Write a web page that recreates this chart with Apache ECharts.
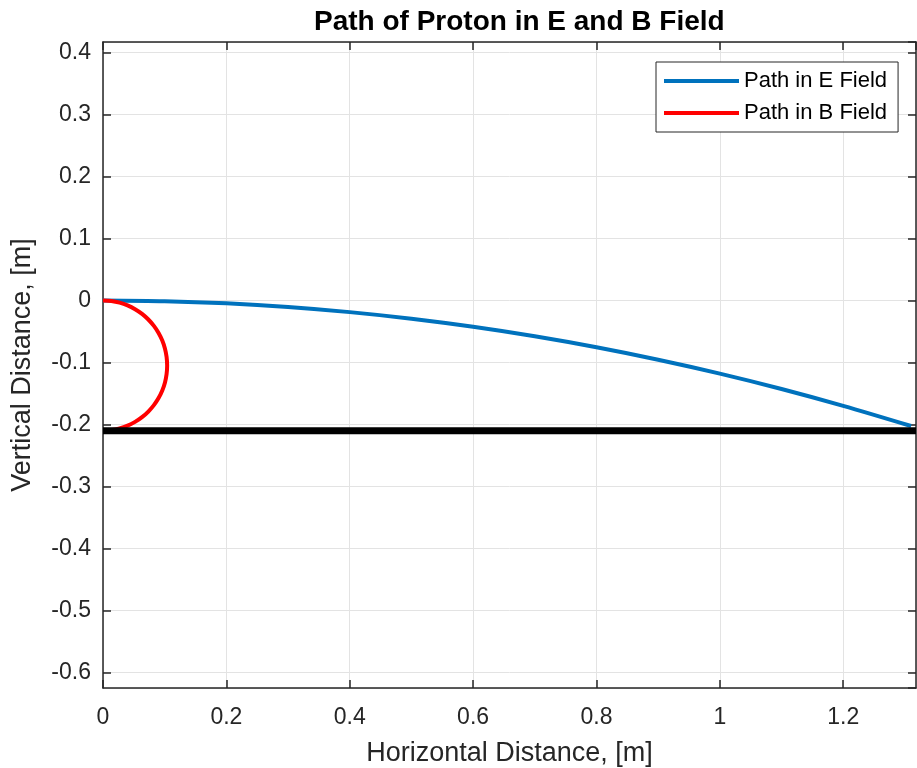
<!DOCTYPE html>
<html>
<head>
<meta charset="utf-8">
<title>Path of Proton in E and B Field</title>
<script src="https://cdn.jsdelivr.net/npm/echarts@6/dist/echarts.min.js"></script>
<style>
  html, body { margin: 0; padding: 0; background: #fff; }
  #chart { width: 917px; height: 768px; }
</style>
</head>
<body>
<div id="chart"></div>
<script>
// path in E field
var eFieldX = [0, 0.1, 0.2, 0.3, 0.4, 0.5, 0.6, 0.7, 0.8, 0.9, 1.0, 1.1, 1.2, 1.31];
var eFieldY = [0, -0.0012, -0.0047, -0.0106, -0.0189, -0.0295, -0.0425, -0.0578, -0.0755, -0.0956, -0.118, -0.1428, -0.170, -0.2025];

// path in B field (half circle)
var bFieldX = [0, 0.0136, 0.0269, 0.0398, 0.052, 0.0633, 0.0735, 0.0825, 0.0901, 0.0961, 0.1005, 0.1031, 0.104,
  0.1031, 0.1005, 0.0961, 0.0901, 0.0825, 0.0735, 0.0633, 0.052, 0.0398, 0.0269, 0.0136, 0];
var bFieldY = [0, -0.0009, -0.0036, -0.008, -0.0141, -0.0217, -0.0308, -0.0411, -0.0525, -0.0648, -0.0778, -0.0913, -0.105,
  -0.1187, -0.1322, -0.1452, -0.1575, -0.1689, -0.1792, -0.1883, -0.1959, -0.202, -0.2064, -0.2091, -0.21];

// black floor line
var floorX = [0, 1.318];
var floorY = [-0.21, -0.21];

var xMin = 0, xMax = 1.318;
var yMin = -0.625, yMax = 0.4167;

function pairs(xs, ys) {
  var out = [];
  for (var i = 0; i < xs.length; i++) out.push([xs[i], ys[i]]);
  return out;
}

var font = "'Liberation Sans', Arial, Helvetica, sans-serif";
var axisColor = "#262626";
var gridColor = "#e3e3e3";

var chart = echarts.init(document.getElementById("chart"));

var option = {
  backgroundColor: "#fff",
  animation: false,
  title: {
    text: "Path of Proton in E and B Field",
    left: 309,
    top: 3,
    textStyle: { fontFamily: font, fontSize: 28, fontWeight: "bold", color: "#000" }
  },
  legend: {
    orient: "vertical",
    left: 656,
    top: 62,
    padding: [8, 11, 8, 8],
    itemWidth: 75,
    itemHeight: 4,
    itemGap: 10,
    icon: "rect",
    backgroundColor: "#fff",
    borderColor: axisColor,
    borderWidth: 1,
    borderRadius: 0,
    data: ["Path in E Field", "Path in B Field"],
    textStyle: { fontFamily: font, fontSize: 22, lineHeight: 22, color: "#000" }
  },
  grid: { left: 103, right: 1, top: 42, bottom: 80, containLabel: false, outerBoundsMode: "none" },
  xAxis: [
    {
      type: "value",
      min: xMin,
      max: xMax,
      splitNumber: 7,
      minInterval: 0.2,
      maxInterval: 0.2,
      name: "Horizontal Distance, [m]",
      nameLocation: "middle",
      nameGap: 52,
      nameTextStyle: { fontFamily: font, fontSize: 27, color: axisColor },
      axisLine: { show: true, onZero: false, lineStyle: { color: axisColor, width: 1.5 } },
      axisTick: { show: true, inside: true, length: 8, lineStyle: { color: axisColor, width: 1.5 } },
      axisLabel: { margin: 18, showMaxLabel: false, fontFamily: font, fontSize: 23, color: axisColor },
      splitLine: { show: true, lineStyle: { color: gridColor, width: 1 } }
    },
    {
      type: "value",
      position: "top",
      min: xMin,
      max: xMax,
      splitNumber: 7,
      minInterval: 0.2,
      maxInterval: 0.2,
      axisLine: { show: true, onZero: false, lineStyle: { color: axisColor, width: 1.5 } },
      axisTick: { show: true, inside: true, length: 8, lineStyle: { color: axisColor, width: 1.5 } },
      axisLabel: { show: false },
      splitLine: { show: false }
    }
  ],
  yAxis: [
    {
      type: "value",
      min: yMin,
      max: yMax,
      splitNumber: 10,
      minInterval: 0.1,
      maxInterval: 0.1,
      name: "Vertical Distance, [m]",
      nameLocation: "middle",
      nameGap: 67,
      nameTextStyle: { fontFamily: font, fontSize: 27, color: axisColor },
      axisLine: { show: true, onZero: false, lineStyle: { color: axisColor, width: 1.5 } },
      axisTick: { show: true, inside: true, length: 8, lineStyle: { color: axisColor, width: 1.5 } },
      axisLabel: { margin: 12, showMinLabel: false, showMaxLabel: false, fontFamily: font, fontSize: 23, color: axisColor },
      splitLine: { show: true, lineStyle: { color: gridColor, width: 1 } }
    },
    {
      type: "value",
      position: "right",
      min: yMin,
      max: yMax,
      splitNumber: 10,
      minInterval: 0.1,
      maxInterval: 0.1,
      axisLine: { show: true, onZero: false, lineStyle: { color: axisColor, width: 1.5 } },
      axisTick: { show: true, inside: true, length: 8, lineStyle: { color: axisColor, width: 1.5 } },
      axisLabel: { show: false },
      splitLine: { show: false }
    }
  ],
  series: [
    {
      name: "Path in E Field",
      type: "line",
      data: pairs(eFieldX, eFieldY),
      showSymbol: false,
      smooth: 0.3,
      color: "#0072BD",
      lineStyle: { width: 4, color: "#0072BD" }
    },
    {
      name: "Path in B Field",
      type: "line",
      data: pairs(bFieldX, bFieldY),
      showSymbol: false,
      smooth: 0.4,
      color: "#FF0000",
      lineStyle: { width: 4, color: "#FF0000" }
    },
    {
      name: "floor",
      type: "line",
      data: pairs(floorX, floorY),
      showSymbol: false,
      color: "#000",
      lineStyle: { width: 7, color: "#000" }
    }
  ]
};

chart.setOption(option);
</script>
</body>
</html>
